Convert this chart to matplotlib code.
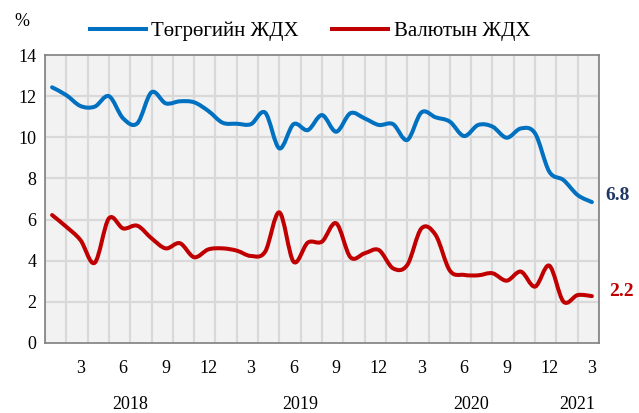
import numpy as np
import matplotlib
matplotlib.use("Agg")
import matplotlib.pyplot as plt
from matplotlib.path import Path
from matplotlib.patches import PathPatch
from matplotlib.lines import Line2D

plt.rcParams["font.family"] = ["Liberation Serif", "DejaVu Serif"]

# monthly data, 2018-01 .. 2021-03
tugrug = [12.43, 12.05, 11.52, 11.49, 12.0, 10.92, 10.68, 12.19, 11.65, 11.75,
          11.7, 11.28, 10.71, 10.66, 10.64, 11.2, 9.46, 10.64, 10.35, 11.08,
          10.27, 11.17, 10.92, 10.6, 10.64, 9.87, 11.21, 10.97, 10.76, 10.06,
          10.6, 10.52, 9.98, 10.43, 10.19, 8.33, 7.92, 7.19, 6.85]
valyut = [6.22, 5.65, 5.0, 3.9, 6.06, 5.57, 5.7, 5.09, 4.6, 4.85,
          4.17, 4.55, 4.6, 4.49, 4.23, 4.44, 6.35, 3.95, 4.88, 4.93,
          5.82, 4.17, 4.36, 4.52, 3.63, 3.79, 5.57, 5.25, 3.52, 3.31,
          3.29, 3.39, 3.03, 3.47, 2.74, 3.76, 2.01, 2.33, 2.28]
month_ticks = [2, 5, 8, 11, 14, 17, 20, 23, 26, 29, 32, 35, 38]
month_labels = ["3", "6", "9", "12", "3", "6", "9", "12", "3", "6", "9", "12", "3"]
years = ["2018", "2019", "2020", "2021"]
year_pos = [5.5, 17.5, 29.5, 37.0]
series_names = ["Төгрөгийн ЖДХ", "Валютын ЖДХ"]
last_labels = ["6.8", "2.2"]

BLUE = "#0070C0"
RED = "#C00000"


def smooth_path(x, y):
    # Excel-style smoothed line (Catmull-Rom as cubic Bezier)
    pts = np.column_stack([x, y])
    n = len(pts)
    verts = [pts[0]]
    codes = [Path.MOVETO]
    for i in range(n - 1):
        p0 = pts[max(i - 1, 0)]
        p1 = pts[i]
        p2 = pts[i + 1]
        p3 = pts[min(i + 2, n - 1)]
        c1 = p1 + (p2 - p0) / 6
        c2 = p2 - (p3 - p1) / 6
        verts += [c1, c2, p2]
        codes += [Path.CURVE4] * 3
    return Path(verts, codes)


fig = plt.figure(figsize=(6.39, 4.13), dpi=100)
ax = fig.add_axes([0.0704, 0.1695, 0.867, 0.6973])
ax.set_facecolor("#F2F2F2")

x = np.arange(len(tugrug))
for vals, col in [(tugrug, BLUE), (valyut, RED)]:
    patch = PathPatch(smooth_path(x, vals), facecolor="none", edgecolor=col,
                      lw=2.9, capstyle="round", joinstyle="round", zorder=3)
    ax.add_patch(patch)

ax.set_xlim(-0.5, 38.5)
ax.set_ylim(0, 14)
ax.set_yticks(np.arange(0, 15, 2))
ax.set_xticks(month_ticks)
ax.set_xticklabels(month_labels)
ax.tick_params(length=0, labelsize=13, colors="black")
ax.tick_params(axis="x", pad=12)
ax.tick_params(axis="y", pad=6)

for gx in np.arange(-0.5, 38.6, 1.5):
    ax.axvline(gx, color="#D9D9D9", lw=1.6, zorder=1)
for gy in np.arange(2, 14, 2):
    ax.axhline(gy, color="#D9D9D9", lw=1.6, zorder=1)
for s in ax.spines.values():
    s.set_color("#7F7F7F")
    s.set_linewidth(1.2)
    s.set_zorder(4)

for yr, pos in zip(years, year_pos):
    ax.text(pos, -0.213, yr, transform=ax.get_xaxis_transform(), ha="center",
            va="center", fontsize=13)

ax.text(38.95, tugrug[-1] + 0.3, last_labels[0], ha="left", va="center",
        fontsize=14, fontweight="bold", color="#1F3864", clip_on=False)
ax.text(39.2, valyut[-1] + 0.2, last_labels[1], ha="left", va="center",
        fontsize=14, fontweight="bold", color=RED, clip_on=False)

fig.text(22 / 639, 1 - 22 / 413, "%", ha="center", va="center", fontsize=13)

handles = [Line2D([], [], color=BLUE, lw=2.9), Line2D([], [], color=RED, lw=2.9)]
fig.legend(handles, series_names, loc="center", bbox_to_anchor=(0.485, 1 - 31 / 413),
           ncol=2, frameon=False, fontsize=15, handlelength=2.7, handletextpad=0.25,
           columnspacing=1.6)

fig.savefig("out.png", dpi=100)
